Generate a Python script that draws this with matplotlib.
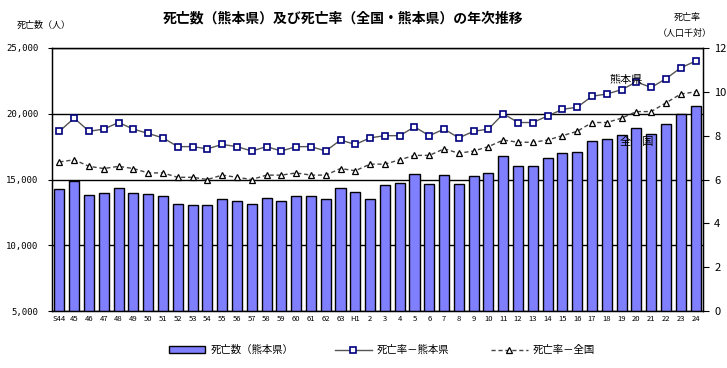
import matplotlib
matplotlib.use("Agg")
import matplotlib.pyplot as plt
from matplotlib.ticker import FuncFormatter
import numpy as np

plt.rcParams["font.family"] = ["Noto Sans CJK JP", "DejaVu Sans"]

# era labels, Showa 44 (1969) .. Heisei 24 (2012)
years = ["S44", "45", "46", "47", "48", "49", "50", "51", "52", "53", "54",
         "55", "56", "57", "58", "59", "60", "61", "62", "63", "H1", "2",
         "3", "4", "5", "6", "7", "8", "9", "10", "11", "12", "13", "14",
         "15", "16", "17", "18", "19", "20", "21", "22", "23", "24"]

# deaths in Kumamoto prefecture (persons)
deaths_kumamoto = [14240, 14920, 13790, 13940, 14390, 13940, 13860, 13710,
                   13160, 13080, 13080, 13540, 13390, 13160, 13610, 13390,
                   13710, 13710, 13490, 14320, 14020, 13540, 14600, 14750,
                   15430, 14670, 15360, 14670, 15280, 15530, 16820, 16010,
                   16010, 16610, 17050, 17120, 17950, 18110, 18410, 18940,
                   18490, 19240, 20000, 20610]

# death rate per 1,000 population
rate_kumamoto = [8.2, 8.8, 8.2, 8.3, 8.6, 8.3, 8.1, 7.9, 7.5, 7.5, 7.4,
                 7.6, 7.5, 7.3, 7.5, 7.3, 7.5, 7.5, 7.3, 7.8, 7.6, 7.9,
                 8.0, 8.0, 8.4, 8.0, 8.3, 7.9, 8.2, 8.3, 9.0, 8.6, 8.6,
                 8.9, 9.2, 9.3, 9.8, 9.9, 10.1, 10.45, 10.2, 10.6, 11.1, 11.4]
rate_japan = [6.8, 6.9, 6.6, 6.5, 6.6, 6.5, 6.3, 6.3, 6.1, 6.1, 6.0,
              6.2, 6.1, 6.0, 6.2, 6.2, 6.3, 6.2, 6.2, 6.5, 6.4, 6.7,
              6.7, 6.9, 7.1, 7.1, 7.4, 7.2, 7.3, 7.5, 7.8, 7.7, 7.7,
              7.8, 8.0, 8.2, 8.6, 8.6, 8.8, 9.1, 9.1, 9.5, 9.9, 10.0]

x = np.arange(len(years))

fig = plt.figure(figsize=(7.27, 3.68), dpi=100)
ax = fig.add_axes([52 / 727, 1 - 311 / 368, 651 / 727, 263 / 368])

bars = ax.bar(x, deaths_kumamoto, width=0.68, color="#8080FF",
              edgecolor="black", linewidth=1, zorder=2,
              label="死亡数（熊本県）")
ax.set_xlim(-0.5, len(years) - 0.5)
ax.set_ylim(5000, 25000)
ax.set_yticks(np.arange(5000, 25001, 5000))
ax.yaxis.set_major_formatter(FuncFormatter(lambda v, p: "{:,.0f}".format(v)))
ax.yaxis.grid(True, color="black", lw=1)
ax.set_axisbelow(True)
ax.set_xticks(x)
ax.set_xticklabels(years, fontsize=5.5)
ax.tick_params(axis="x", length=0, pad=3)
ax.tick_params(axis="y", labelsize=6.5, length=3, direction="out", pad=7)
for lab in ax.get_yticklabels():
    lab.set_family("DejaVu Sans Mono")
for sp in ax.spines.values():
    sp.set_linewidth(1)

ax2 = ax.twinx()
ln1, = ax2.plot(x, rate_kumamoto, color="#555555", lw=1, marker="s",
                markersize=5, markerfacecolor="white",
                markeredgecolor="#000080", markeredgewidth=1.2,
                label="死亡率－熊本県", zorder=3)
ln2, = ax2.plot(x, rate_japan, color="#444444", lw=1, ls=(0, (3, 2)),
                marker="^", markersize=4, markerfacecolor="white",
                markeredgecolor="black", markeredgewidth=0.9,
                label="死亡率－全国", zorder=3)
ax2.set_ylim(0, 12)
ax2.set_yticks(np.arange(0, 13, 2))
ax2.tick_params(axis="y", labelsize=8, length=4, direction="out", pad=4)

ax2.text(38.3, 10.55, "熊本県", fontsize=8, ha="center", va="center")
ax2.text(39.0, 7.7, "全　国", fontsize=8, ha="center", va="center")

fig.text(343 / 727, 1 - 19 / 368,
         "死亡数（熊本県）及び死亡率（全国・熊本県）の年次推移",
         fontsize=10, fontweight="bold", ha="center", va="center")
fig.text(44 / 727, 1 - 25 / 368, "死亡数（人）", fontsize=6.5,
         ha="center", va="center")
fig.text(687 / 727, 1 - 17 / 368, "死亡率", fontsize=6.5,
         ha="center", va="center")
fig.text(685 / 727, 1 - 33 / 368, "（人口千対）", fontsize=6.5,
         ha="center", va="center")

fig.legend(handles=[bars, ln1, ln2], loc="center", ncol=3,
           bbox_to_anchor=(382 / 727, 1 - 350 / 368), frameon=False,
           fontsize=7.5, handlelength=3.5, columnspacing=4,
           handletextpad=0.5, handleheight=0.6)

fig.savefig("out.png", dpi=100)
